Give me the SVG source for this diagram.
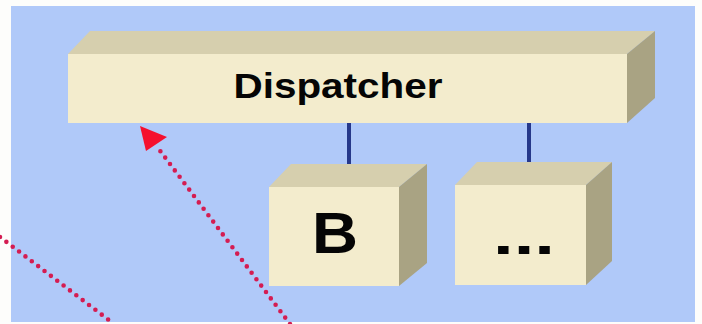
<svg xmlns="http://www.w3.org/2000/svg" width="702" height="324" viewBox="0 0 702 324">
  <defs>
    <style>
      .front { fill: #f3eccd; }
      .top { fill: #d6cfae; }
      .side { fill: #a9a383; }
      .label { font-family: "Liberation Sans", Arial, sans-serif; font-weight: bold; fill: #050505; }
      .link { stroke: #26388a; stroke-width: 4; fill: none; }
      .dots { stroke: #d41c52; stroke-width: 4.6; stroke-linecap: round; stroke-dasharray: 0 8; fill: none; }
    </style>
  </defs>
  <rect x="0" y="0" width="702" height="324" fill="#fdfdfb"/>
  <rect x="11" y="6" width="684" height="316" fill="#b0c9f9"/>

  <g id="connectors">
    <line class="link" x1="349" y1="123" x2="349" y2="175"/>
    <line class="link" x1="529" y1="123" x2="529" y2="175"/>
    <line class="dots" x1="0" y1="237" x2="114" y2="324"/>
    <line class="dots" x1="290" y1="324" x2="158" y2="148"/>
    <polygon points="140,126 167,137 146,151" fill="#f5102e"/>
  </g>

  <g id="dispatcher">
    <polygon class="top" points="68,54 90,31 655,31 627,54"/>
    <polygon class="side" points="627,54 655,31 655,98 627,123"/>
    <rect class="front" x="68" y="54" width="559" height="69"/>
    <text class="label" x="338" y="98" font-size="35" text-anchor="middle" textLength="209" lengthAdjust="spacingAndGlyphs">Dispatcher</text>
  </g>

  <g id="node-b">
    <polygon class="top" points="269,187 291,164 427,164 399,187"/>
    <polygon class="side" points="399,187 427,164 427,263 399,286"/>
    <rect class="front" x="269" y="187" width="130" height="99"/>
    <text class="label" x="335" y="253" font-size="57" text-anchor="middle" textLength="46" lengthAdjust="spacingAndGlyphs">B</text>
  </g>

  <g id="node-more">
    <polygon class="top" points="455,185 477,162 612,162 586,185"/>
    <polygon class="side" points="586,185 612,162 612,261 586,285"/>
    <rect class="front" x="455" y="185" width="131" height="100"/>
    <text class="label" x="524" y="254" font-size="54" text-anchor="middle" textLength="62" lengthAdjust="spacingAndGlyphs">...</text>
  </g>
</svg>
